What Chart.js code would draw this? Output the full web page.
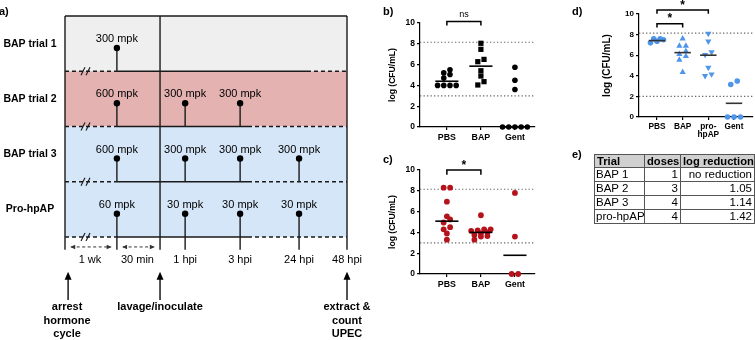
<!DOCTYPE html>
<html><head><meta charset="utf-8">
<script src="https://cdn.jsdelivr.net/npm/chart.js@4/dist/chart.umd.min.js"></script>
<style>
html,body{margin:0;padding:0;background:#fff;}
body{width:755px;height:340px;position:relative;overflow:hidden;font-family:"Liberation Sans",Arial,sans-serif;}
canvas{position:absolute;}
#tbl{position:absolute;left:594px;top:154px;border-collapse:collapse;table-layout:fixed;width:160px;color:#000;}
#tbl td,#tbl th{border:1px solid #555;padding:0 2px;height:13px;line-height:13px;white-space:nowrap;overflow:hidden;font-size:11.5px;}
#tbl th{background:#d0d0d0;font-weight:bold;font-size:11.2px;height:12px;line-height:12px;}
#tbl td.r{text-align:right;}
#tbl td.l{text-align:left;padding-left:1px;}
#elab{position:absolute;left:572px;top:148px;font-weight:bold;font-size:11px;}
</style></head><body>
<canvas id="ca" width="380" height="340" style="left:0;top:0;width:380px;height:340px"></canvas>
<canvas id="cb" width="210" height="150" style="left:340px;top:0;width:210px;height:150px"></canvas>
<canvas id="cc" width="210" height="195" style="left:340px;top:145px;width:210px;height:195px"></canvas>
<canvas id="cd" width="205" height="150" style="left:550px;top:0;width:205px;height:150px"></canvas>
<div id="elab">e)</div>
<table id="tbl"><colgroup><col style="width:50px"><col style="width:36px"><col style="width:74px"></colgroup><thead><tr id="thead"></tr></thead><tbody id="tbody"></tbody></table>
<script>
const FONT = '"Liberation Sans", Arial, sans-serif';

// ---------------- Panel a: dosing timeline ----------------
const trials = ['BAP trial 1', 'BAP trial 2', 'BAP trial 3', 'Pro-hpAP'];
const rowColors = ['#efefef', '#e3b2b1', '#d5e6f8', '#d5e6f8'];
const timelineEvents = ['arrest', 'pre-dose', 'lavage', '1 hpi', '3 hpi', '24 hpi', '48 hpi'];
const timelineX = [0, 18.4, 33.7, 42.6, 62.1, 83.0, 100];   // schematic axis units
const doseEvent = [[1], [1, 3, 4], [1, 3, 4, 5], [1, 3, 4, 5]];
const doseMpk = [[300], [600, 300, 300], [600, 300, 300, 300], [60, 30, 30, 30]];
const intervalLabels = ['1 wk', '30 min'];
const hpiLabels = ['1 hpi', '3 hpi', '24 hpi', '48 hpi'];
const solidUntil = [85.8, 64.9, 64.9, 64.9];
const noteEvents = [0, 2, 6];
const noteLines = [['arrest', 'hormone', 'cycle'], ['lavage/inoculate'], ['extract &', 'count', 'UPEC']];

// ---------------- Panel b ----------------
const catsB = ['PBS', 'BAP', 'Gent'];
const pbsB = [4.0, 4.0, 4.0, 4.0, 4.7, 5.05, 5.2, 5.5];
const bapB = [8.05, 7.47, 6.5, 6.28, 5.41, 4.9, 4.36, 4.04];
const gentB = [5.75, 4.5, 3.6, 0, 0, 0, 0, 0];
const centerB = [4.4, 5.85, 0];
const lodB = [8.15, 3.0];

// ---------------- Panel c ----------------
const catsC = ['PBS', 'BAP', 'Gent'];
const pbsC = [8.3, 8.3, 6.95, 5.55, 5.25, 4.95, 4.5, 4.3, 3.9, 3.3];
const bapC = [5.65, 4.3, 4.3, 4.2, 4.15, 4.0, 3.9, 3.75, 3.65, 3.6, 3.3];
const gentC = [7.8, 3.6, 0, 0];
const centerC = [5.08, 4.0, 1.8];
const lodC = [8.15, 3.0];

// ---------------- Panel d ----------------
const catsD = ['PBS', 'BAP', ['pro-', 'hpAP'], 'Gent'];
const pbsD = [7.2, 7.6, 7.5, 7.6, 7.35];
const bapD = [7.6, 6.9, 6.9, 6.4, 6.1, 5.9, 5.55, 4.35];
const proD = [8.1, 7.35, 6.3, 6.05, 4.8, 4.15, 4.0];
const gentD = [3.5, 3.15, 0, 0, 0];
const centerD = [7.42, 6.25, 6.0, 1.33];
const lodD = [8.15, 2.0];

// ---------------- Panel e ----------------
const tblHead = ['Trial', 'doses', 'log reduction'];
const tblTrial = ['BAP 1', 'BAP 2', 'BAP 3', 'pro-hpAP'];
const tblDoses = [1, 3, 4, 4];
const tblLogRed = ['no reduction', '1.05', '1.14', '1.42'];

// ================= Panel a chart =================
const LINE = '#1a1a1a';
const DOT_Y = 0.58, LAB_Y = 0.42, TICK_B = 4.23, ARR_Y = 4.18, TIME_Y = 4.42;
const dsA = [];
dsA.push({data: doseEvent.flatMap((evs, r) => evs.map(e => ({x: timelineX[e], y: r + DOT_Y}))),
  pointRadius: 3.2, pointBackgroundColor: '#000', pointBorderWidth: 0, showLine: false, clip: false});
function seg(pts, extra) {
  dsA.push(Object.assign({data: pts, showLine: true, borderColor: LINE, borderWidth: 1.4,
    pointRadius: 0, clip: false, fill: false}, extra || {}));
}
seg([{x: 0, y: 0}, {x: 100, y: 0}]);
[0, 2, 6].forEach(e => seg([{x: timelineX[e], y: 0}, {x: timelineX[e], y: TICK_B}]));
trials.forEach((t, r) => {
  const y = r + 1;
  seg([{x: 0, y}, {x: timelineX[1], y}], {borderDash: [4, 3]});
  seg([{x: timelineX[1], y}, {x: solidUntil[r], y}]);
  seg([{x: solidUntil[r], y}, {x: 100, y}], {borderDash: [4, 3]});
  doseEvent[r].forEach(e => seg([{x: timelineX[e], y: r === trials.length - 1 ? TICK_B : y}, {x: timelineX[e], y: r + DOT_Y}]));
});
[[0, 1], [1, 2]].forEach(([a, b]) => seg([{x: timelineX[a] + 2.2, y: ARR_Y}, {x: timelineX[b] - 2.2, y: ARR_Y}],
  {borderDash: [3, 2.5], borderWidth: 1, borderColor: '#333'}));
noteEvents.forEach(e => seg([{x: timelineX[e] + (e === 0 ? 1.1 : 0), y: 5.14}, {x: timelineX[e] + (e === 0 ? 1.1 : 0), y: 4.72}], {borderWidth: 1.5}));

const plugA = {
  id: 'plugA',
  beforeDatasetsDraw(ch) {
    const {ctx, scales: {x, y}} = ch;
    ctx.save();
    rowColors.forEach((c, r) => {
      const x0 = x.getPixelForValue(0), x1 = x.getPixelForValue(100);
      const y0 = y.getPixelForValue(r), y1 = y.getPixelForValue(r + 1);
      ctx.fillStyle = c; ctx.fillRect(x0, y0, x1 - x0, y1 - y0);
    });
    ctx.restore();
  },
  afterDatasetsDraw(ch) {
    const {ctx, scales: {x, y}} = ch;
    ctx.save();
    ctx.fillStyle = '#000'; ctx.strokeStyle = LINE;
    ctx.textAlign = 'center'; ctx.textBaseline = 'middle';
    ctx.font = 'bold 10.5px ' + FONT;
    trials.forEach((t, r) => ctx.fillText(t, x.getPixelForValue(0) - 35, y.getPixelForValue(r + 0.5)));
    ctx.font = '11px ' + FONT;
    doseEvent.forEach((evs, r) => evs.forEach((e, k) =>
      ctx.fillText(doseMpk[r][k] + ' mpk', x.getPixelForValue(timelineX[e]), y.getPixelForValue(r + LAB_Y))));
    ctx.lineWidth = 1.1;
    trials.forEach((t, r) => {
      const px = x.getPixelForValue(timelineX[0]) + 21, py = y.getPixelForValue(r + 1);
      [-3, 2].forEach(d => { ctx.beginPath(); ctx.moveTo(px + d - 2, py + 4); ctx.lineTo(px + d + 2, py - 4); ctx.stroke(); });
    });
    ctx.font = '11px ' + FONT;
    intervalLabels.forEach((l, i) =>
      ctx.fillText(l, (x.getPixelForValue(timelineX[i]) + x.getPixelForValue(timelineX[i + 1])) / 2 - 1, y.getPixelForValue(TIME_Y)));
    hpiLabels.forEach((l, i) => ctx.fillText(l, x.getPixelForValue(timelineX[3 + i]), y.getPixelForValue(TIME_Y)));
    ctx.fillStyle = '#333';
    [[0, 1], [1, 2]].forEach(([a, b]) => {
      const py = y.getPixelForValue(ARR_Y);
      const l = x.getPixelForValue(timelineX[a] + 2.2), rr = x.getPixelForValue(timelineX[b] - 2.2);
      ctx.beginPath(); ctx.moveTo(l - 1, py); ctx.lineTo(l + 4, py - 2.2); ctx.lineTo(l + 4, py + 2.2); ctx.closePath(); ctx.fill();
      ctx.beginPath(); ctx.moveTo(rr + 1, py); ctx.lineTo(rr - 4, py - 2.2); ctx.lineTo(rr - 4, py + 2.2); ctx.closePath(); ctx.fill();
    });
    ctx.fillStyle = '#000';
    ctx.font = 'bold 11px ' + FONT;
    noteEvents.forEach((e, i) => {
      const px = x.getPixelForValue(timelineX[e] + (e === 0 ? 1.1 : 0));
      const tip = y.getPixelForValue(4.63);
      ctx.beginPath(); ctx.moveTo(px, tip); ctx.lineTo(px - 3.5, tip + 8); ctx.lineTo(px + 3.5, tip + 8); ctx.closePath(); ctx.fill();
      const tx = e === 0 ? px - 1 : px;
      noteLines[i].forEach((s, k) => ctx.fillText(s, tx, y.getPixelForValue(5.27) + k * 13.5));
    });
    ctx.textAlign = 'left';
    ctx.font = 'bold 11px ' + FONT;
    ctx.fillText('a)', -1, 12);
    ctx.restore();
  }
};

new Chart(document.getElementById('ca'), {
  type: 'scatter',
  data: {datasets: dsA},
  options: {
    responsive: false, animation: false, events: [],
    layout: {padding: {left: 65, right: 33, top: 16, bottom: 103}, autoPadding: false},
    plugins: {legend: {display: false}, tooltip: {enabled: false}},
    scales: {
      x: {type: 'linear', display: false, min: 0, max: 100},
      y: {type: 'linear', display: false, min: 0, max: 4, reverse: true}
    }
  },
  plugins: [plugA]
});

// ================= dot plots b, c, d =================
function swarm(vals, cat, pxY, pxX, binPx, stepPx) {
  const order = vals.map((v, i) => i).sort((a, b) => vals[a] - vals[b]);
  const out = [];
  let bin = [], start = null;
  const flush = () => {
    bin.forEach((i, k) => { out[i] = {x: cat + (k - (bin.length - 1) / 2) * stepPx / pxX, y: vals[i]}; });
    bin = [];
  };
  order.forEach(i => {
    if (bin.length && (vals[i] - start) * pxY > binPx) flush();
    if (!bin.length) start = vals[i];
    bin.push(i);
  });
  flush();
  return out;
}

function dotPlot(id, o) {
  const ds = [];
  o.centers.forEach((m, i) => ds.push({data: [{x: i - o.half, y: m}, {x: i + o.half, y: m}], showLine: true,
    borderColor: o.lineColor, borderWidth: 1.6, pointRadius: 0, clip: false}));
  o.brackets.forEach(b => ds.push({data: [{x: b.from, y: b.leg}, {x: b.from, y: b.top}, {x: b.to, y: b.top}, {x: b.to, y: b.leg}],
    showLine: true, borderColor: '#000', borderWidth: 1.5, pointRadius: 0, clip: false}));
  o.series.forEach((vals, i) => ds.push({data: vals.map(v => ({x: i, y: v})), _vals: vals, _cat: i,
    showLine: false, pointStyle: o.styles[i], pointRotation: o.rot[i], pointRadius: o.radius[i],
    pointBackgroundColor: o.color, pointBorderColor: o.color, pointBorderWidth: 0, clip: false}));
  o.lod.forEach(v => ds.push({data: [{x: o.xMin, y: v}, {x: o.xMax, y: v}], showLine: true,
    borderColor: '#666', borderWidth: 1.2, borderDash: [1.3, 2.2], pointRadius: 0, clip: false}));

  const plug = {
    id: 'plug' + id,
    afterDatasetsDraw(ch) {
      const {ctx, scales: {x, y}, chartArea: ca} = ch;
      ctx.save();
      ctx.fillStyle = '#000'; ctx.textAlign = 'center'; ctx.textBaseline = 'middle';
      o.brackets.forEach(b => {
        ctx.font = b.font;
        ctx.fillText(b.label, (x.getPixelForValue(b.from) + x.getPixelForValue(b.to)) / 2, y.getPixelForValue(b.labelY));
      });
      ctx.save();
      ctx.translate(ca.left - o.titleOff, (ca.top + ca.bottom) / 2);
      ctx.rotate(-Math.PI / 2);
      ctx.font = 'bold ' + o.titleSize + 'px ' + FONT;
      ctx.fillText('log (CFU/mL)', 0, 0);
      ctx.restore();
      ctx.textAlign = 'left';
      ctx.font = 'bold 11px ' + FONT;
      ctx.fillText(o.letter, o.letterX, o.letterY);
      ctx.restore();
    }
  };

  const tickFont = {family: FONT, size: o.tickSize, weight: 'bold'};
  const ch = new Chart(document.getElementById(id), {
    type: 'scatter',
    data: {datasets: ds},
    options: {
      responsive: false, animation: false, events: [],
      layout: {padding: o.pad, autoPadding: false},
      plugins: {legend: {display: false}, tooltip: {enabled: false}},
      scales: {
        x: {type: 'linear', min: o.xMin, max: o.xMax,
          afterBuildTicks: s => { s.ticks = o.cats.map((c, i) => ({value: i})); },
          afterFit: s => { s.height = o.xH; },
          ticks: {callback: (v, i) => o.cats[i], font: {family: FONT, size: o.catSize, weight: 'bold', lineHeight: 0.95},
            color: '#000', padding: 3, maxRotation: 0, autoSkip: false},
          grid: {drawOnChartArea: false, drawTicks: true, tickLength: 3, color: '#000', lineWidth: 1.2},
          border: {display: true, color: '#000', width: 1.2}},
        y: {type: 'linear', min: 0, max: 10,
          afterFit: s => { s.width = 30; },
          ticks: {stepSize: 2, font: tickFont, color: '#000', padding: 2},
          grid: {drawOnChartArea: false, drawTicks: true, tickLength: 3, color: '#000', lineWidth: 1.2},
          border: {display: true, color: '#000', width: 1.2}}
      }
    },
    plugins: [plug]
  });
  const xs = ch.scales.x, ys = ch.scales.y;
  const pxX = xs.getPixelForValue(1) - xs.getPixelForValue(0);
  const pxY = Math.abs(ys.getPixelForValue(1) - ys.getPixelForValue(0));
  ch.data.datasets.forEach(d => { if (d._vals) d.data = swarm(d._vals, d._cat, pxY, pxX, o.binPx, o.stepPx); });
  ch.update('none');
  return ch;
}

dotPlot('cb', {
  cats: catsB, series: [pbsB, bapB, gentB], centers: centerB, lod: lodB,
  styles: ['circle', 'rect', 'circle'], rot: [0, 0, 0], radius: [2.8, 3.7, 2.8],
  color: '#000', lineColor: '#000', half: 0.34, xMin: -0.79, xMax: 2.59,
  pad: {left: 50, right: 15, top: 23, bottom: 3}, xH: 20, tickSize: 8.5, catSize: 8.8,
  binPx: 4, stepPx: 6.2, titleOff: 27, titleSize: 8.6, letter: 'b)', letterX: 43, letterY: 12,
  brackets: [{from: 0, to: 1, top: 10.15, leg: 9.75, label: 'ns', labelY: 10.85, font: '9px ' + FONT}]
});
dotPlot('cc', {
  cats: catsC, series: [pbsC, bapC, gentC], centers: centerC, lod: lodC,
  styles: ['circle', 'circle', 'circle'], rot: [0, 0, 0], radius: [2.9, 2.9, 2.9],
  color: '#b5121b', lineColor: '#000', half: 0.34, xMin: -0.79, xMax: 2.59,
  pad: {left: 50, right: 15, top: 25, bottom: 46}, xH: 20, tickSize: 8.5, catSize: 8.8,
  binPx: 4, stepPx: 6.5, titleOff: 27, titleSize: 8.6, letter: 'c)', letterX: 43, letterY: 15,
  brackets: [{from: 0, to: 1, top: 10.0, leg: 9.55, label: '*', labelY: 10.45, font: 'bold 12px ' + FONT}]
});
dotPlot('cd', {
  cats: catsD, series: [pbsD, bapD, proD, gentD], centers: centerD, lod: lodD,
  styles: ['circle', 'triangle', 'triangle', 'circle'], rot: [0, 0, 180, 0], radius: [2.8, 3.6, 3.6, 2.8],
  color: '#4f96ea', lineColor: '#333', half: 0.32, xMin: -0.70, xMax: 3.74,
  pad: {left: 59, right: 2, top: 14, bottom: 8}, xH: 25, tickSize: 8, catSize: 8.3,
  binPx: 4, stepPx: 6.5, titleOff: 32, titleSize: 10, letter: 'd)', letterX: 22, letterY: 12,
  brackets: [
    {from: 0, to: 1, top: 9.05, leg: 8.7, label: '*', labelY: 9.5, font: 'bold 12px ' + FONT},
    {from: 0, to: 2, top: 10.4, leg: 10.02, label: '*', labelY: 10.85, font: 'bold 12px ' + FONT}
  ]
});

// ================= Panel e table =================
document.getElementById('thead').innerHTML = tblHead.map((h, i) =>
  '<th style="text-align:' + (i === 0 ? 'left' : 'center') + '">' + h + '</th>').join('');
document.getElementById('tbody').innerHTML = tblTrial.map((t, i) =>
  '<tr><td class="l">' + t + '</td><td class="r">' + tblDoses[i] + '</td><td class="r">' + tblLogRed[i] + '</td></tr>').join('');
</script>
</body></html>
